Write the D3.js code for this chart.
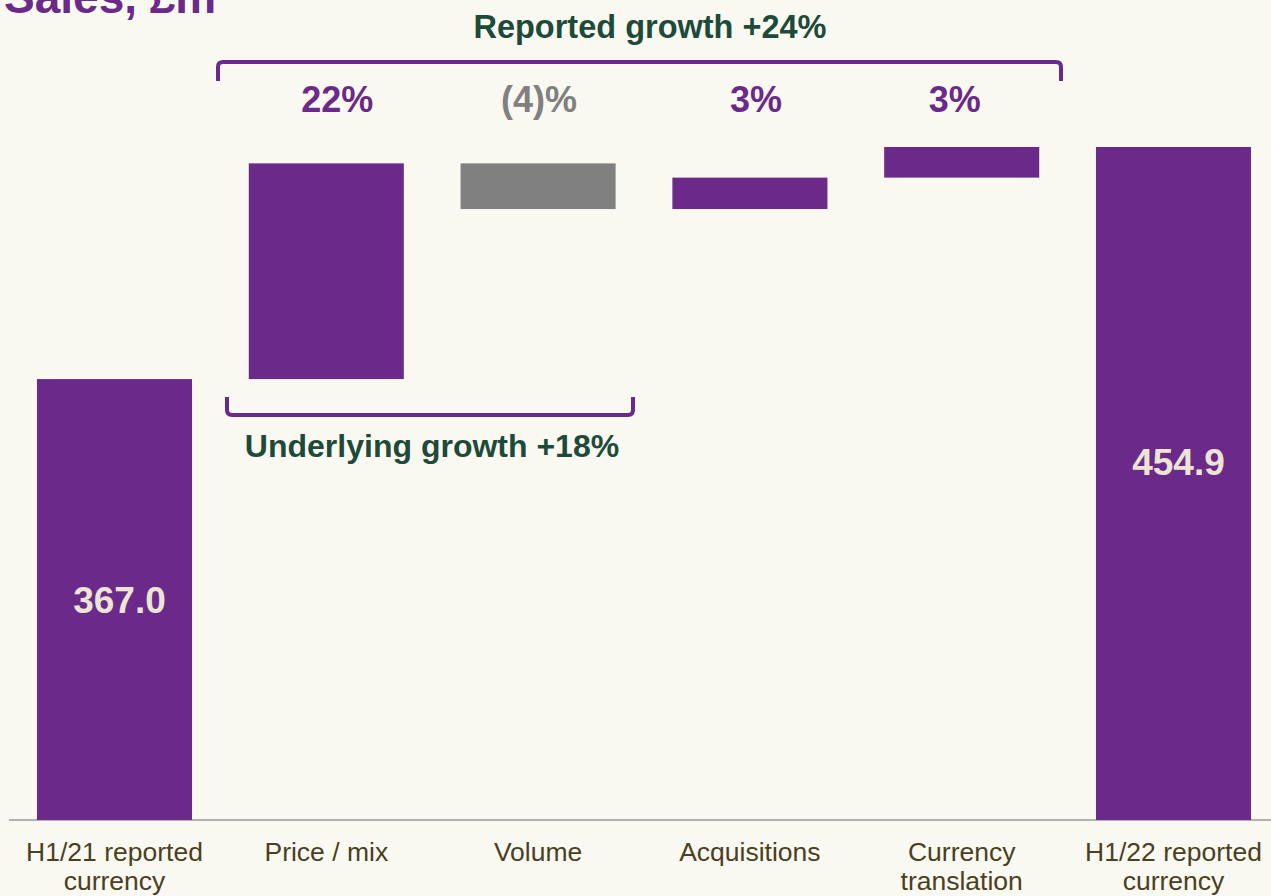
<!DOCTYPE html>
<html>
<head>
<meta charset="utf-8">
<script src="https://cdn.jsdelivr.net/npm/d3@7"></script>
<style>
  body { margin: 0; background: #FAF9F1; }
  svg { display: block; font-family: "Liberation Sans", Arial, sans-serif; }
</style>
</head>
<body>
<svg id="canvas" width="1271" height="896"></svg>
<script>
let categories = ["H1/21 reported currency", "Price / mix", "Volume", "Acquisitions", "Currency translation", "H1/22 reported currency"]
let categoryLines = [["H1/21 reported", "currency"], ["Price / mix"], ["Volume"], ["Acquisitions"], ["Currency", "translation"], ["H1/22 reported", "currency"]]
let kinds = ["total", "delta", "delta", "delta", "delta", "total"]
let values = [367.0, 81.7, -17.3, 11.9, 11.6, 454.9]
let pctLabels = ["", "22%", "(4)%", "3%", "3%", ""]
let totalLabels = ["367.0", "", "", "", "", "454.9"]

let purple = "#6B2A89"
let grey = "#808080"
let green = "#1E4A3A"

let svg = d3.select('#canvas')
let width = 1271

// small horizontal nudges for the % labels, as in the original slide
let pctNudge = [0, 11, 1, 6, -7, 0]

// waterfall steps
let running = 0
let bars = categories.map((c, i) => {
  let start, end
  if (kinds[i] === "total") {
    start = 200; end = values[i]; running = values[i]
  } else {
    start = running; end = running + values[i]; running = end
  }
  return { name: c, lo: Math.min(start, end), hi: Math.max(start, end), v: values[i], i: i }
})

let x = d3.scaleBand()
  .domain(categories)
  .range([8.6, 1279.4])
  .paddingInner(0.268)
  .paddingOuter(0.134)

let y = d3.scaleLinear()
  .domain([200, 454.9])
  .range([820, 147])

// title (cut off at top in original)
svg.append("text")
  .attr("x", 4).attr("y", 13)
  .attr("font-size", 46).attr("font-weight", "bold")
  .attr("fill", purple)
  .text("Sales, £m")

// baseline
svg.append("line")
  .attr("x1", 9).attr("x2", width)
  .attr("y1", y(200)).attr("y2", y(200))
  .attr("stroke", "#9a9a9a").attr("stroke-width", 1.5)

svg.selectAll("rect.bar")
  .data(bars)
  .enter()
  .append("rect")
  .attr("class", "bar")
  .attr("x", d => x(d.name))
  .attr("width", x.bandwidth())
  .attr("y", d => y(d.hi))
  .attr("height", d => y(d.lo) - y(d.hi))
  .attr("fill", d => d.v < 0 ? grey : purple)

// totals inside bars
svg.selectAll("text.total")
  .data(bars.filter(d => totalLabels[d.i] !== ""))
  .enter()
  .append("text")
  .attr("class", "total")
  .attr("x", d => x(d.name) + x.bandwidth() / 2 + 5)
  .attr("y", d => (d.i === 0 ? y((d.hi + d.lo) / 2) : y((d.hi + d.lo) / 2) - 22) + 13)
  .attr("text-anchor", "middle")
  .attr("font-size", 37).attr("font-weight", "bold")
  .attr("fill", "#EDE5D3")
  .text(d => totalLabels[d.i])

// percentage labels
svg.selectAll("text.pct")
  .data(bars.filter(d => pctLabels[d.i] !== ""))
  .enter()
  .append("text")
  .attr("class", "pct")
  .attr("x", d => x(d.name) + x.bandwidth() / 2 + pctNudge[d.i])
  .attr("y", 112)
  .attr("text-anchor", "middle")
  .attr("font-size", 36).attr("font-weight", "bold")
  .attr("fill", d => d.v < 0 ? grey : purple)
  .text(d => pctLabels[d.i])

// category labels
let catG = svg.selectAll("text.cat")
  .data(bars)
  .enter()
  .append("text")
  .attr("class", "cat")
  .attr("text-anchor", "middle")
  .attr("font-size", 26.5)
  .attr("fill", "#4A3F22")

catG.selectAll("tspan")
  .data(d => categoryLines[d.i].map(l => ({ l: l, cx: x(d.name) + x.bandwidth() / 2 })))
  .enter()
  .append("tspan")
  .attr("x", d => d.cx)
  .attr("y", (d, j) => 861 + j * 29)
  .text(d => d.l)

// brackets
let bracket = (x1, x2, yTip, yLine, r) => {
  let dir = yLine < yTip ? -1 : 1
  return "M" + x1 + "," + yTip +
    " L" + x1 + "," + (yLine - dir * r) +
    " Q" + x1 + "," + yLine + " " + (x1 + r) + "," + yLine +
    " L" + (x2 - r) + "," + yLine +
    " Q" + x2 + "," + yLine + " " + x2 + "," + (yLine - dir * r) +
    " L" + x2 + "," + yTip
}

svg.append("path")
  .attr("d", bracket(218, 1061, 81, 62, 5))
  .attr("fill", "none").attr("stroke", purple).attr("stroke-width", 4)

svg.append("path")
  .attr("d", bracket(227, 633, 397, 415, 5))
  .attr("fill", "none").attr("stroke", purple).attr("stroke-width", 4)

svg.append("text")
  .attr("x", 650).attr("y", 38)
  .attr("text-anchor", "middle")
  .attr("font-size", 32.5).attr("font-weight", "bold")
  .attr("fill", green)
  .text("Reported growth +24%")

svg.append("text")
  .attr("x", 432).attr("y", 457)
  .attr("text-anchor", "middle")
  .attr("font-size", 32).attr("font-weight", "bold")
  .attr("fill", green)
  .text("Underlying growth +18%")
</script>
</body>
</html>
